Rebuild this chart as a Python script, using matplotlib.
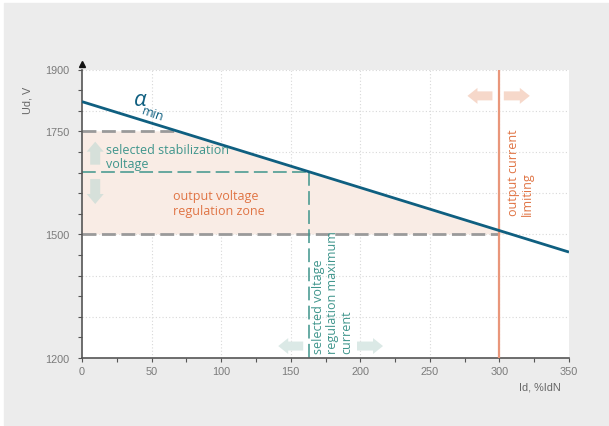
import matplotlib
matplotlib.use("Agg")
import matplotlib.pyplot as plt
import numpy as np
from matplotlib.patches import Polygon, Rectangle
from matplotlib.transforms import ScaledTranslation

# ---- data ----
alpha_x = [0, 350]
alpha_y = [1822, 1457]
stab_voltage = 1652
max_current = 163
upper_voltage = 1750
lower_voltage = 1500
current_limit = 300
x_ticks = [0, 50, 100, 150, 200, 250, 300, 350]
y_tick_labels = [1200, 1500, 1750, 1900]

TXT_FONT = ["Open Sans", "DejaVu Sans"]
TICK_FONT = ["Liberation Sans", "DejaVu Sans"]
BLUE = "#0f5f80"
TEAL = "#3f958c"
ORANGE = "#e07444"
ORANGE_LINE = "#e9967a"
GRAY_DASH = "#9a9a9a"

fig = plt.figure(figsize=(6.09, 4.27), dpi=100, facecolor="white")
fig.patches.append(Rectangle((4/609, 1/427), 1, (427-5)/427, transform=fig.transFigure,
                             color="#ececec", zorder=-10))
ax = fig.add_axes([82/609, 1-359/427, (569-82)/609, (359-70.5)/427])
ax.set_facecolor("white")
ax.set_xlim(0, 350)
ax.set_ylim(1200, 1900)

# grid
for gx in range(50, 350, 50):
    ax.axvline(gx, color="#d8d8d8", lw=0.8, ls=(0, (1, 2)), zorder=0)
for gy in range(1300, 1901, 100):
    ax.axhline(gy, color="#d8d8d8", lw=0.8, ls=(0, (1, 2)), zorder=0)

slope = (alpha_y[1]-alpha_y[0])/(alpha_x[1]-alpha_x[0])
x_upper = (upper_voltage - alpha_y[0])/slope
x_lower = (lower_voltage - alpha_y[0])/slope

# fill zone
poly_x = [0, 0, x_upper, x_lower]
poly_y = [lower_voltage, upper_voltage, upper_voltage, lower_voltage]
ax.fill(poly_x, poly_y, color="#f9ece5", lw=0, zorder=1)

# dashed gray lines
ax.plot([0, x_upper], [upper_voltage]*2, color=GRAY_DASH, lw=2, ls=(0, (5, 2)), zorder=2)
ax.plot([0, current_limit], [lower_voltage]*2, color=GRAY_DASH, lw=2, ls=(0, (5, 2)), zorder=2)
# teal dashed
ax.plot([0, max_current], [stab_voltage]*2, color=TEAL, lw=1.1, ls=(0, (9, 3.5)), zorder=2)
ax.plot([max_current]*2, [stab_voltage, 1200], color=TEAL, lw=1.1, ls=(0, (9, 3.5)), zorder=2)
# orange vertical
ax.axvline(current_limit, color=ORANGE_LINE, lw=1.6, zorder=3)
# main line
ax.plot(alpha_x, alpha_y, color=BLUE, lw=2, zorder=4, solid_capstyle="butt")

# arrows (pixel-based shapes)
def arrow(x, y, direction, color, length=24, head_len=10, head_w=17, body_w=10):
    L, hl, hw, bw = length/100, head_len/100, head_w/100, body_w/100
    pts = np.array([[-L/2, -bw/2], [L/2-hl, -bw/2], [L/2-hl, -hw/2], [L/2, 0],
                    [L/2-hl, hw/2], [L/2-hl, bw/2], [-L/2, bw/2]])
    ang = {"right": 0, "up": 90, "left": 180, "down": 270}[direction]
    t = np.deg2rad(ang)
    R = np.array([[np.cos(t), -np.sin(t)], [np.sin(t), np.cos(t)]])
    pts = pts @ R.T
    tr = fig.dpi_scale_trans + ScaledTranslation(x, y, ax.transData)
    ax.add_patch(Polygon(pts, closed=True, color=color, lw=0, transform=tr, zorder=2))

arrow(9.5, 1697, "up", "#d6e0da", length=23)
arrow(9.5, 1604, "down", "#d6e0da", length=25)
arrow(150, 1229, "left", "#dbe9e6", length=25, head_w=16, body_w=9)
arrow(207, 1229, "right", "#dbe9e6", length=26, head_w=16, body_w=9)
arrow(286, 1836, "left", "#f6d8ca", length=25, head_w=16, body_w=9)
arrow(312.5, 1836, "right", "#f6d8ca", length=26, head_w=16, body_w=9)

# texts
ax.text(41.5, 1828, "α", color=BLUE, fontsize=16, style="italic", family=TXT_FONT,
        ha="center", va="center", zorder=5)
ax.text(50.5, 1794, "min", color=BLUE, fontsize=9, family=TXT_FONT, rotation=-19,
        ha="center", va="center", rotation_mode="anchor", zorder=5)
ax.text(17.2, 1688, "selected stabilization\nvoltage", color=TEAL, fontsize=9,
        family=TXT_FONT, ha="left", va="center", linespacing=1.1, zorder=5)
ax.text(65.4, 1576, "output voltage\nregulation zone", color=ORANGE, fontsize=9,
        family=TXT_FONT, ha="left", va="center", linespacing=1.15, zorder=5)
ax.text(165.6, 1212, "selected voltage\nregulation maximum\ncurrent", color=TEAL,
        fontsize=9, family=TXT_FONT, rotation=90, rotation_mode="anchor",
        ha="left", va="top", linespacing=1.1, zorder=5)
ax.text(305.6, 1547, "output current\nlimiting", color=ORANGE, fontsize=9,
        family=TXT_FONT, rotation=90, rotation_mode="anchor",
        ha="left", va="top", linespacing=1.1, zorder=5)

# axes styling
for s in ["top", "right"]:
    ax.spines[s].set_visible(False)
for s in ["left", "bottom"]:
    ax.spines[s].set_color("#555555")
    ax.spines[s].set_linewidth(1.2)
ax.set_xticks(x_ticks)
ax.set_xticklabels([str(v) for v in x_ticks])
ax.set_xticks(np.arange(0, 351, 25), minor=True)
ax.set_yticks(y_tick_labels)
ax.set_yticklabels([str(v) for v in y_tick_labels])
ax.set_yticks(np.arange(1200, 1901, 50), minor=True)
ax.tick_params(which="both", direction="out", length=3, width=0.8, color="#555555")
ax.tick_params(axis="both", labelsize=7.8, labelcolor="#7a7a7a")
ax.tick_params(axis="y", pad=6)
ax.tick_params(axis="x", pad=3)
for lab in ax.get_xticklabels() + ax.get_yticklabels():
    lab.set_family(TICK_FONT)

# arrow heads on axes
ax.plot([0], [1.02], marker="^", color="#111111", ms=4, transform=ax.get_xaxis_transform(),
        clip_on=False, zorder=6)
ax.plot([1.006], [0], marker=">", color="#444444", ms=4, transform=ax.get_yaxis_transform(),
        clip_on=False, zorder=6)
ax.plot([-0.008], [0], marker="<", color="#444444", ms=4, transform=ax.get_yaxis_transform(),
        clip_on=False, zorder=6)

fig.text(28/609, 1-100/427, "Ud, V", rotation=90, ha="center", va="center",
         fontsize=7.8, color="#666666", family=TICK_FONT)
fig.text(540/609, 1-388/427, "Id, %IdN", ha="center", va="center",
         fontsize=7.8, color="#666666", family=TICK_FONT)

fig.savefig("out.png", dpi=100, facecolor="white")
